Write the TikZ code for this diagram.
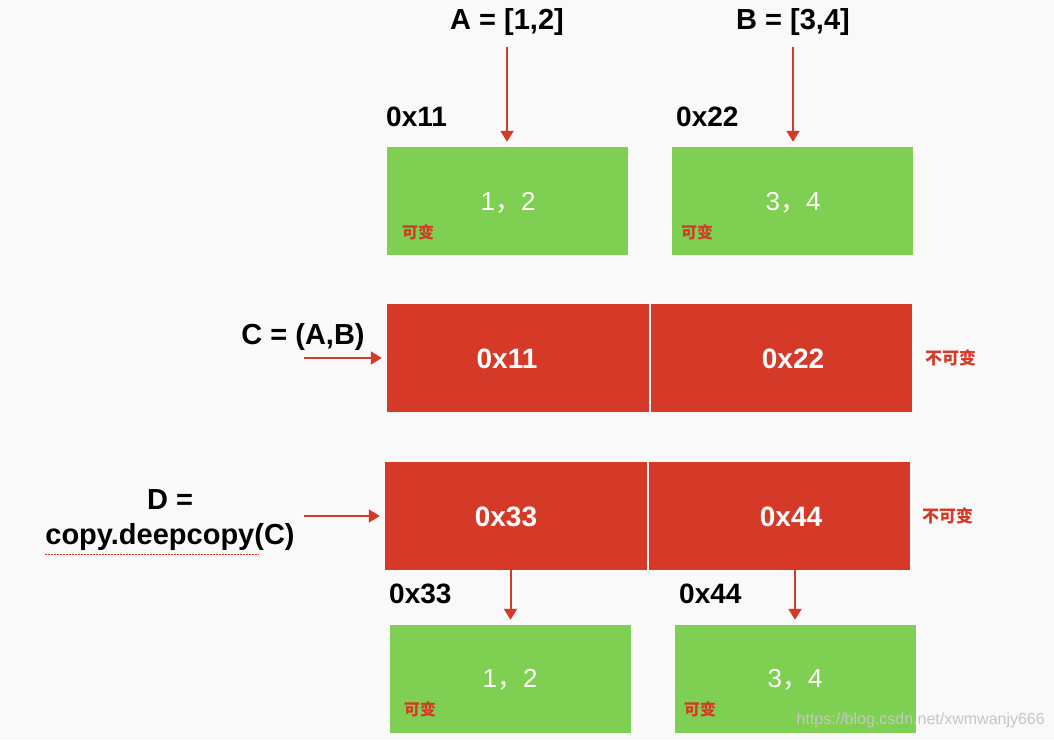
\documentclass[tikz,border=0pt]{standalone}
\usepackage{fontspec}
\setmainfont{Liberation Sans}
\newfontfamily\cjk{Noto Sans CJK SC}
\usetikzlibrary{arrows.meta}
\definecolor{cellred}{HTML}{D43A27}
\definecolor{cellgreen}{HTML}{7ECF52}
\definecolor{paper}{HTML}{F9F9F9}
\tikzset{
  cell/.style={fill=cellgreen, minimum width=241pt, minimum height=108pt, inner sep=0pt},
  half/.style={fill=cellred, minimum height=108pt, inner sep=0pt},
  ptr/.style={draw=cellred, line width=2pt, -{Triangle[length=11pt,width=13pt]}},
  varname/.style={inner sep=0pt, font=\fontsize{29}{33}\selectfont\bfseries},
  addr/.style={inner sep=0pt, anchor=west, font=\fontsize{28}{30}\selectfont\bfseries},
  ref/.style={inner sep=0pt, text=white, font=\fontsize{28}{30}\selectfont\bfseries},
  val/.style={inner sep=0pt, text=white, font=\fontsize{26}{28}\selectfont},
  tag/.style={inner sep=0pt, anchor=west, text=cellred, font=\fontsize{16}{18}\selectfont\cjk\bfseries}
}
\begin{document}
\begin{tikzpicture}[x=1pt, y=-1pt]
  \useasboundingbox (0,0) rectangle (1054,740);
  \fill[paper] (0,0) rectangle (1054,740);

  % the two lists
  \node[varname] (lblA) at (507,22) {A = [1,2]};
  \node[varname] (lblB) at (793,22) {B = [3,4]};
  \node[addr] (adA) at (386,117) {0x11};
  \node[addr] (adB) at (676,117) {0x22};
  \node[cell] (cellA) at (507.5,201) {};
  \node[cell] (cellB) at (792,201) {};
  \node[val] at (508,203) {1{\cjk ，}2};
  \node[val] at (793,203) {3{\cjk ，}4};
  \node[tag] (tagA) at (402,232) {可变};
  \node[tag] (tagB) at (681,232) {可变};
  \draw[ptr, shorten <=11pt, shorten >=5pt] (lblA.south) -- (lblA.south |- cellA.north);
  \draw[ptr, shorten <=11pt, shorten >=5pt] (lblB.south) -- (lblB.south |- cellB.north);

  % C = (A,B)
  \node[half, minimum width=262pt] (C1) at (518,358) {};
  \node[half, minimum width=261pt] (C2) at (781.5,358) {};
  \node[ref] at (507,359) {0x11};
  \node[ref] at (793,359) {0x22};
  \node[tag, font=\fontsize{17}{19}\selectfont\cjk\bfseries] (fixC) at (925,358) {不可变};
  \node[varname] (lblC) at (303,337) {C = (A,B)};
  \coordinate (cin) at (304,358);
  \draw[ptr, shorten >=5pt] (cin) -- (C1.west);

  % D = copy.deepcopy(C)
  \node[half, minimum width=262pt] (D1) at (516,516) {};
  \node[half, minimum width=261pt] (D2) at (779.5,516) {};
  \node[ref] at (506,517) {0x33};
  \node[ref] at (791,517) {0x44};
  \node[tag, font=\fontsize{17}{19}\selectfont\cjk\bfseries] (fixD) at (922,516) {不可变};
  \node[varname] (lblD) at (170,500) {D =};
  \node[varname] (callD) at (170,537) {copy.deepcopy(C)};
  \draw[cellred, line width=1pt, dash pattern=on 1.5pt off 1.5pt]
    ([yshift=-4pt]callD.south west) -- ++(214,0);
  \coordinate (din) at (304,516);
  \draw[ptr, shorten >=5pt] (din) -- (D1.west);

  % the copied lists
  \node[addr] (adE) at (389,594) {0x33};
  \node[addr] (adF) at (679,594) {0x44};
  \node[cell] (cellE) at (510.5,679) {};
  \node[cell] (cellF) at (795,679) {};
  \node[val] at (510,680) {1{\cjk ，}2};
  \node[val] at (795,680) {3{\cjk ，}4};
  \node[tag] (tagE) at (404,709) {可变};
  \node[tag] (tagF) at (684,709) {可变};
  \draw[ptr, shorten >=5pt] (D1.south -| cellE.north) -- (cellE.north);
  \draw[ptr, shorten >=5pt] (D2.south -| cellF.north) -- (cellF.north);

  \node[inner sep=0pt, anchor=east, text=gray!45, font=\fontsize{16}{18}\selectfont]
    (mark) at (1045,720) {https://blog.csdn.net/xwmwanjy666};
\end{tikzpicture}
\end{document}
